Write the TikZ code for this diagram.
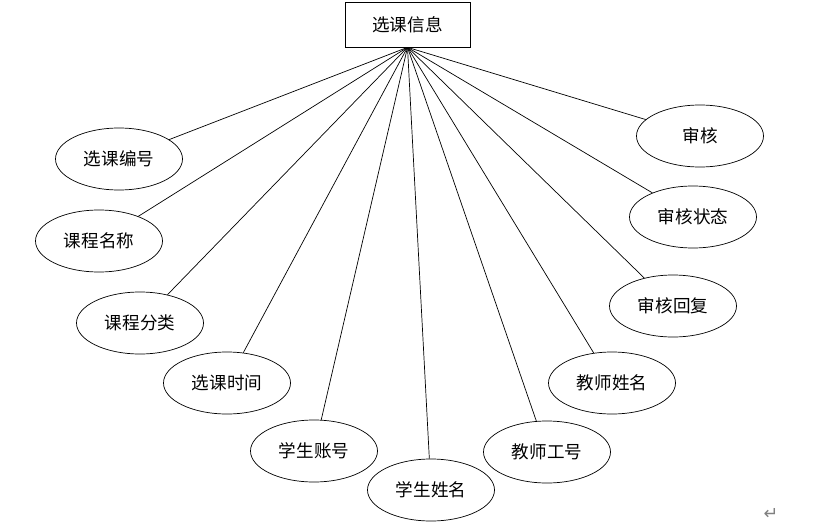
\documentclass[tikz,border=0pt]{standalone}
\usepackage{fontspec}
\newfontfamily\cjk{Noto Sans CJK SC}
\newfontfamily\dejavu{DejaVu Sans}
\usetikzlibrary{shapes.geometric}

\begin{document}
\begin{tikzpicture}[x=0.03cm,y=-0.03cm,inner sep=0pt,line width=0.6pt,
  every node/.style={font=\cjk\fontsize{15}{18}\selectfont},
  ent/.style={draw,rectangle,minimum width=125*0.03cm,minimum height=45*0.03cm},
  attr/.style={draw,ellipse,minimum width=127*0.03cm,minimum height=62*0.03cm}]
\useasboundingbox (0,0) rectangle (834,531);
\node[ent] (xk) at (407.5, 24.5) {选课信息};

\node[attr] (a1) at (119, 159) {选课编号};
\node[attr] (a2) at (99, 241) {课程名称};
\node[attr] (a3) at (140, 323) {课程分类};
\node[attr] (a4) at (227, 383) {选课时间};
\node[attr] (a5) at (314, 451) {学生账号};
\node[attr] (a6) at (431, 490) {学生姓名};
\node[attr] (a7) at (547, 452) {教师工号};
\node[attr] (a8) at (612, 383) {教师姓名};
\node[attr] (a9) at (673, 306) {审核回复};
\node[attr] (a10) at (693, 217) {审核状态};
\node[attr] (a11) at (700, 136) {审核};

\foreach \i in {1,...,11}
  \draw (xk.south) -- (a\i);

\node[text=gray,font=\dejavu\fontsize{15}{16}\selectfont] (ret) at (771, 514) {↵};
\end{tikzpicture}
\end{document}
